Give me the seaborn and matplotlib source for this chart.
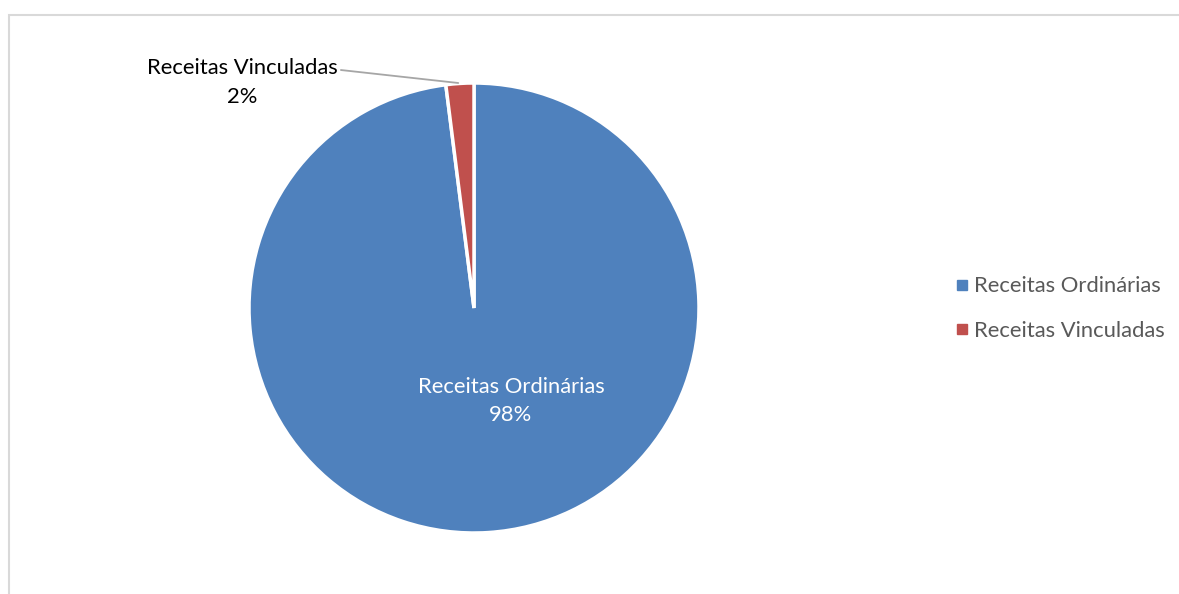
import matplotlib
matplotlib.use("Agg")
import matplotlib.pyplot as plt
from matplotlib.patches import Rectangle
from matplotlib.lines import Line2D
import seaborn as sns

# Revenue breakdown
categories = ["Receitas Ordinárias", "Receitas Vinculadas"]
shares = [98, 2]
label_text = ["Receitas Ordinárias\n98%", "Receitas Vinculadas\n2%"]

sns.set_theme(style="white")
plt.rcParams["font.family"] = ["Lato", "DejaVu Sans"]

colors = ["#4F81BD", "#C0504D"]

W, H = 1179, 594
fig = plt.figure(figsize=(W / 100, H / 100), dpi=100)
fig.patch.set_facecolor("white")

# chart area frame
fig.patches.append(Rectangle((8.5 / W, -0.05), 1.2, (H - 14.5) / H + 0.05,
                             transform=fig.transFigure, fill=False,
                             edgecolor="#d9d9d9", linewidth=1.5, zorder=0))

cx, cy, r = 474, 308, 225
ax = fig.add_axes([(cx - r) / W, (H - cy - r) / H, 2 * r / W, 2 * r / H])
wedges, _ = ax.pie(shares, colors=colors, startangle=90, counterclock=False,
                   radius=1.0, wedgeprops=dict(edgecolor="white", linewidth=2.5))
ax.set_xlim(-1, 1)
ax.set_ylim(-1, 1)
ax.set_aspect("equal")
ax.axis("off")

fs = 15.8

# inside label for the large slice
ax.text(0.164, -0.413, label_text[0], ha="center", va="center",
        color="white", fontsize=fs, linespacing=1.5)

# outside label with leader line for the small slice
ax.annotate(label_text[1], xy=(-0.07, 1.0), xytext=(-1.03, 1.002),
            ha="center", va="center", fontsize=fs, color="black",
            linespacing=1.6, annotation_clip=False,
            arrowprops=dict(arrowstyle="-", color="#a6a6a6", lw=1.3,
                            shrinkA=0, shrinkB=0, relpos=(1.0, 0.76)))

handles = [Line2D([0], [0], marker="s", linestyle="", markersize=7,
                  markerfacecolor=c, markeredgecolor=c) for c in colors]
leg = fig.legend(handles, categories, loc="center left",
                 bbox_to_anchor=(947 / W, (H - 308.5) / H), frameon=False,
                 fontsize=fs, handlelength=0.6, handletextpad=0.22,
                 labelspacing=1.12, borderaxespad=0)
for t in leg.get_texts():
    t.set_color("#595959")

fig.savefig("out.png", dpi=100, facecolor="white")
